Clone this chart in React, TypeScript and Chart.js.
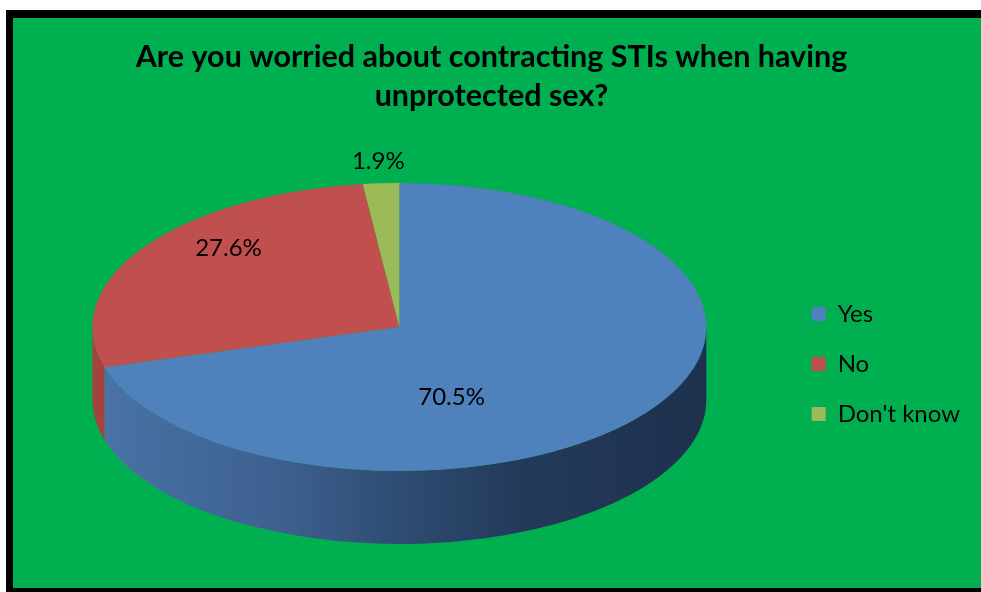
import { useEffect, useRef } from "react";
import { Chart, registerables } from "chart.js";

Chart.register(...registerables);

const categories = ["Yes", "No", "Don't know"];
const percentages = [70.5, 27.6, 1.9];
const sliceColors = ["#4F81BD", "#C0504D", "#9BBB59"];
const sideShades = [
  ["#4A73A7", "#3D6190", "#2F4C72", "#233A5A", "#1E314D"],
  ["#A4433F", "#923B38", "#7C3230", "#662826", "#5A2321"],
  ["#86A24C", "#779043", "#637839", "#52632F", "#48572A"],
];
const titleLines = [
  "Are you worried about contracting STIs when having",
  "unprotected sex?",
];
const labelShiftDeg = [34, 11, 0];
const labelRadius = [0.52, 0.78, 1.15];

const FONT = 'Lato, "Open Sans", "DejaVu Sans", sans-serif';

const pie3d = {
  id: "pie3d",
  beforeDatasetsDraw(chart: any, _args: any, opts: any) {
    const meta = chart.getDatasetMeta(0);
    const arcs = meta.data;
    chart.$pie3dSaved = false;
    if (!arcs || !arcs.length) return;
    const a0 = arcs[0];
    const R = a0.outerRadius;
    const cx = a0.x;
    const cy = a0.y;
    const rx = R * opts.scaleX;
    const ry = R * opts.scaleY;
    const depth = R * opts.depth;
    const ctx = chart.ctx;
    arcs.forEach((arc: any, i: number) => {
      const s = arc.startAngle;
      const e = arc.endAngle;
      for (const base of [0, 2 * Math.PI]) {
        const a = Math.max(s, base);
        const b = Math.min(e, base + Math.PI);
        if (b <= a) continue;
        const g = ctx.createLinearGradient(cx - rx, 0, cx + rx, 0);
        const shades = sideShades[i % sideShades.length];
        const stops = [0, 0.3, 0.5, 0.7, 1];
        shades.forEach((c: string, k: number) => g.addColorStop(stops[k], c));
        ctx.save();
        ctx.beginPath();
        ctx.ellipse(cx, cy, rx, ry, 0, a, b, false);
        ctx.ellipse(cx, cy + depth, rx, ry, 0, b, a, true);
        ctx.closePath();
        ctx.fillStyle = g;
        ctx.fill();
        ctx.restore();
      }
    });
    ctx.save();
    ctx.translate(cx, cy);
    ctx.scale(rx / R, ry / R);
    ctx.translate(-cx, -cy);
    chart.$pie3dSaved = true;
  },
  afterDatasetsDraw(chart: any, _args: any, opts: any) {
    const ctx = chart.ctx;
    if (chart.$pie3dSaved) {
      ctx.restore();
      chart.$pie3dSaved = false;
    }
    const meta = chart.getDatasetMeta(0);
    const arcs = meta.data;
    if (!arcs || !arcs.length) return;
    const R = arcs[0].outerRadius;
    const cx = arcs[0].x;
    const cy = arcs[0].y;
    const rx = R * opts.scaleX;
    const ry = R * opts.scaleY;
    const values = chart.data.datasets[0].data;
    ctx.save();
    ctx.font = `24px ${FONT}`;
    ctx.fillStyle = "#000";
    ctx.textAlign = "center";
    ctx.textBaseline = "middle";
    arcs.forEach((arc: any, i: number) => {
      const mid = (arc.startAngle + arc.endAngle) / 2 + (labelShiftDeg[i] * Math.PI) / 180;
      const r = labelRadius[i];
      const x = cx + rx * r * Math.cos(mid);
      const y = cy + ry * r * Math.sin(mid);
      ctx.fillText(`${Number(values[i]).toFixed(1)}%`, x, y);
    });
    ctx.restore();
  },
};

export default function App() {
  const ref = useRef<HTMLCanvasElement | null>(null);

  useEffect(() => {
    const canvas = ref.current;
    if (!canvas) return;
    const chart = new Chart(canvas, {
      type: "pie",
      data: {
        labels: categories,
        datasets: [
          {
            data: percentages,
            backgroundColor: sliceColors,
            borderWidth: 0,
            clip: false,
          } as any,
        ],
      },
      options: {
        responsive: false,
        animation: false,
        devicePixelRatio: 1,
        events: [],
        layout: { padding: { left: 0, right: 11, top: 0, bottom: 59.5 } },
        plugins: {
          title: {
            display: true,
            text: titleLines,
            color: "#000",
            font: { family: FONT, size: 30.5, weight: "bold", lineHeight: 39 / 30.5 },
            padding: { top: 19.5, bottom: 10 },
          },
          legend: {
            display: true,
            position: "right",
            fullSize: false,
            align: "center",
            title: {
              display: true,
              text: " ",
              font: { size: 12, lineHeight: 1.2 },
              padding: { top: 59.6, bottom: 0 },
            },
            labels: {
              color: "#000",
              boxWidth: 14,
              boxHeight: 14,
              padding: 26,
              font: { family: FONT, size: 24 },
            },
          },
          tooltip: { enabled: false },
          pie3d: { scaleX: 1.5236, scaleY: 0.7146, depth: 0.362 },
        } as any,
      },
      plugins: [pie3d],
    });
    return () => chart.destroy();
  }, []);

  return (
    <div
      style={{
        position: "fixed",
        left: 0,
        top: 0,
        width: 981,
        height: 592,
        background: "#fff",
        overflow: "hidden",
      }}
    >
      <div
        style={{
          position: "absolute",
          left: 6,
          top: 10,
          width: 975,
          height: 582,
          background: "#000",
        }}
      />
      <div
        style={{
          position: "absolute",
          left: 13,
          top: 18,
          width: 968,
          height: 570,
          background: "#00B050",
        }}
      >
        <canvas
          ref={ref}
          width={968}
          height={570}
          style={{ display: "block", width: 968, height: 570 }}
        />
      </div>
    </div>
  );
}
